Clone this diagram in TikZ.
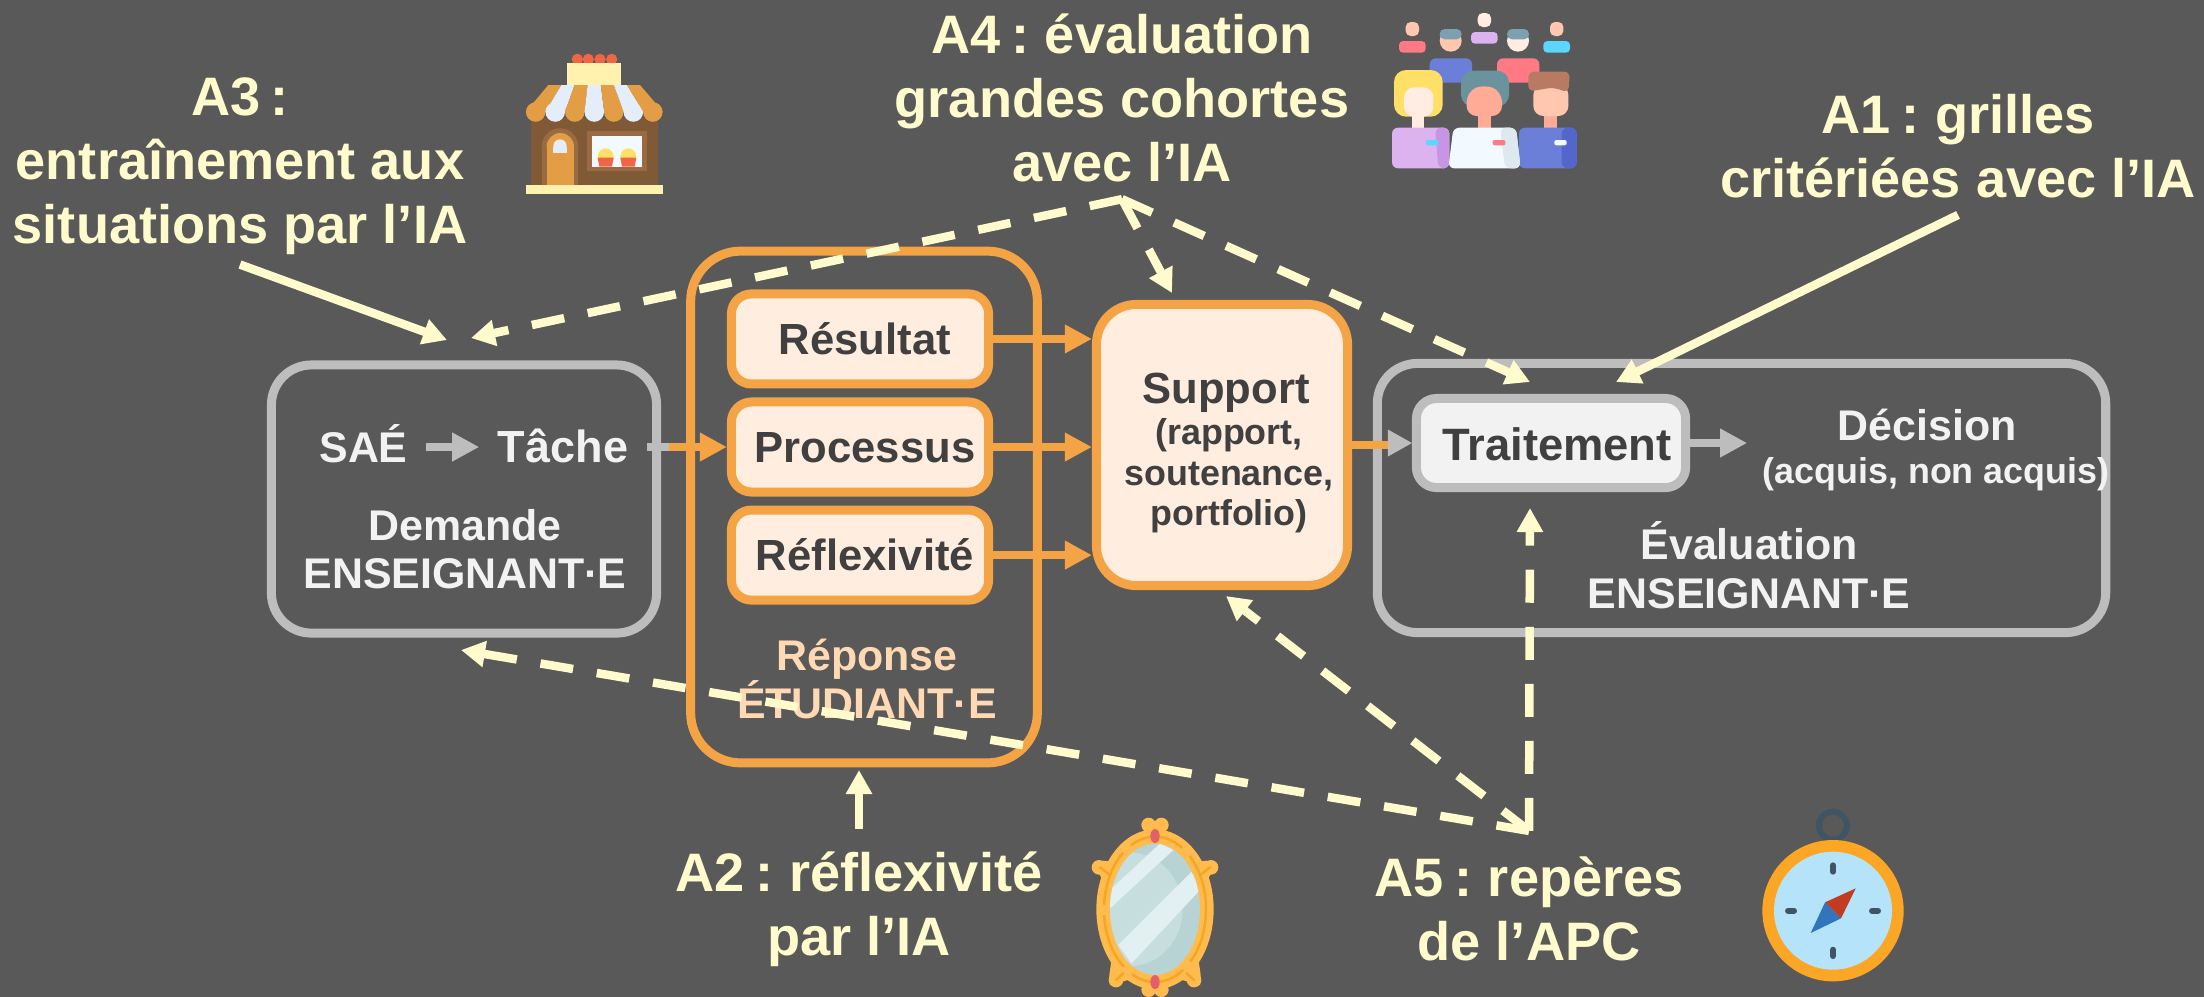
\documentclass[tikz,border=0pt]{standalone}
\usepackage{xcolor}
\usepackage{fontspec}
\setmainfont{Liberation Sans}
\usetikzlibrary{arrows.meta,positioning,calc}
\newcommand{\colonsep}{\hspace{-0.08em}:\hspace{-0.08em}}
\definecolor{slatebg}{HTML}{595959}
\definecolor{cream}{HTML}{FFFBCC}
\definecolor{orangeline}{HTML}{F4A444}
\definecolor{peachfill}{HTML}{FFEEDF}
\definecolor{peachtext}{HTML}{FFD9B3}
\definecolor{greyline}{HTML}{BDBDBD}
\definecolor{greyfill}{HTML}{F2F2F2}
\definecolor{darktext}{HTML}{404040}
\definecolor{shopbrown}{HTML}{805A37}
\definecolor{shopframe}{HTML}{9A6B42}
\definecolor{shoporange}{HTML}{E39D45}
\definecolor{shopwhite}{HTML}{E4EEFB}
\definecolor{shopcream}{HTML}{FFF1AE}
\definecolor{shopred}{HTML}{EF6545}
\definecolor{skinpale}{HTML}{FFC7B0}
\definecolor{skinlight}{HTML}{FFEDE3}
\definecolor{skindark}{HTML}{FFAB95}
\definecolor{teal}{HTML}{7CA0B0}
\definecolor{tealdark}{HTML}{6A939E}
\definecolor{pinkcloth}{HTML}{FF7A85}
\definecolor{bluecloth}{HTML}{6C7FD8}
\definecolor{bluedark}{HTML}{5366CC}
\definecolor{lilac}{HTML}{DCB3EE}
\definecolor{lilacdark}{HTML}{C795E3}
\definecolor{skyblue}{HTML}{5AD6FF}
\definecolor{whitecloth}{HTML}{F3FAFF}
\definecolor{whiteshade}{HTML}{DDE9EE}
\definecolor{hairyellow}{HTML}{FFE066}
\definecolor{hairbrown}{HTML}{B97A63}
\definecolor{mirrorgold}{HTML}{FFBB4D}
\definecolor{mirrorline}{HTML}{F5A623}
\definecolor{mirrorglass}{HTML}{B8D3D3}
\definecolor{mirrorlight}{HTML}{C7DEDE}
\definecolor{mirrorshine}{HTML}{E3F0F1}
\definecolor{mirrorred}{HTML}{E2606A}
\definecolor{compassgold}{HTML}{FBA625}
\definecolor{compassface}{HTML}{B5E4FA}
\definecolor{compassdark}{HTML}{3F5563}
\definecolor{needlered}{HTML}{C23B22}
\definecolor{needleblue}{HTML}{3375BD}

\begin{document}
\begin{tikzpicture}[
    x=0.01cm, y=-0.01cm,
    groupbox/.style={rectangle, line width=0.09cm, rounded corners=0.4cm},
    itembox/.style={rectangle, draw=orangeline, fill=peachfill, line width=0.09cm, rounded corners=0.2cm, minimum width=2.57cm, minimum height=0.9cm, text=darktext, text height=0.31cm, text depth=0cm, font=\fontsize{12.4}{14}\selectfont\bfseries},
    flowtext/.style={text=greyfill, font=\fontsize{12.2}{13.8}\selectfont\bfseries, align=center},
    steptext/.style={flowtext, inner sep=0.18cm, text height=0.31cm, text depth=0cm},
    smalltext/.style={font=\fontsize{10.2}{11.5}\selectfont\bfseries, align=center},
    actionlabel/.style={text=cream, font=\fontsize{15.4}{18.2}\selectfont\bfseries, align=center, inner sep=0cm, outer sep=0.1cm},
    orangearrow/.style={-{Triangle[length=0.27cm,width=0.27cm]}, line width=0.08cm, orangeline},
    greyarrow/.style={-{Triangle[length=0.27cm,width=0.27cm]}, line width=0.08cm, greyline},
    creamarrow/.style={-{Triangle[length=0.24cm,width=0.25cm]}, line width=0.085cm, cream},
    creamdash/.style={creamarrow, dash pattern=on 0.33cm off 0.24cm}
]
    \useasboundingbox (0,0) rectangle (2204,996);
    \fill[slatebg] (-10,-10) rectangle (2214,1007);

    % Boxes
    \node[groupbox, draw=greyline, minimum width=3.85cm, minimum height=2.68cm] (demande) at (464,499) {};
    \node[groupbox, draw=orangeline, rounded corners=0.5cm, minimum width=3.465cm, minimum height=5.115cm] (reponse) at (864,507) {};
    \node[itembox] (processus) at (860,447) {\hspace*{0.1cm}Processus};
    \node[itembox, above=0.09cm of processus] (resultat) {\hspace*{0.1cm}Résultat};
    \node[itembox, below=0.09cm of processus] (reflexivite) {\hspace*{0.1cm}Réflexivité};
    \node[groupbox, draw=orangeline, fill=peachfill, minimum width=2.51cm, minimum height=2.81cm] (support) at (1222,445) {};
    \node[groupbox, draw=greyline, minimum width=7.28cm, minimum height=2.69cm] (evaluation) at (1741.5,498) {};
    \node[itembox, draw=greyline, fill=greyfill, minimum width=2.69cm, minimum height=0.89cm, text height=0.34cm, font=\fontsize{12.9}{14}\selectfont\bfseries] (traitement) at (1551,443) {\hspace*{0.12cm}Traitement};

    % Texts in boxes
    \node[steptext] (sae) at (363.5,447) {SAÉ};
    \node[steptext, font=\fontsize{12.8}{14}\selectfont\bfseries] (tache) at (563,447) {Tâche};
    \node[flowtext] (demandetext) at (465,549) {Demande\\ENSEIGNANT\kern-0.02em·\kern-0.02em E};
    \node[flowtext, text=peachtext] (reponsetext) at (867,679) {Réponse\\ÉTUDIANT·E};
    \node[text=darktext, font=\fontsize{12.4}{14}\selectfont\bfseries] (supporttext) at (1226,393) {Support};
    \node[smalltext, text=darktext] (supportdetail) at (1229,476) {(rapport,\\soutenance,\\portfolio)};
    \node[flowtext] (decision) at (1927,425) {Décision};
    \node[smalltext, text=greyfill] (decisiondetail) at (1936,474) {(acquis, non acquis)};
    \node[flowtext] (evaluationtext) at (1749,565) {Évaluation\\ENSEIGNANT\kern-0.02em·\kern-0.02em E};

    % Action labels
    \node[actionlabel] (athree) at (240,166) {A3 \colonsep{}\\entraînement aux\\situations par l’IA};
    \node[actionlabel, outer sep=0.17cm] (afour) at (1122,98) {A4 \colonsep{} évaluation\\grandes cohortes\\avec l’IA};
    \node[actionlabel, outer sep=0.17cm] (aone) at (1958,146) {A1 \colonsep{} grilles\\critériées avec l’IA};
    \node[actionlabel, outer sep=0.23cm] (atwo) at (859,909) {A2 \colonsep{} réflexivité\\par l’IA};
    \node[actionlabel, outer sep=0.26cm] (afive) at (1529,909) {A5 \colonsep{} repères\\de l’APC};

    % Arrow ends
    \coordinate (athreetip) at (447,340);
    \coordinate (afourleft) at (471,338);
    \coordinate (afoursupport) at (1172,293);
    \coordinate (afourtraite) at (1530,382);
    \coordinate (aonetip) at (1616,382);
    \coordinate (atwotip) at (859,770);
    \coordinate (afivetraite) at (1530,508);
    \coordinate (afivesupport) at (1226,596);
    \coordinate (afivedemande) at (461,650);

    % Flow arrows
    \draw[greyarrow] (sae) -- (tache);
    \draw[orangearrow] (tache.east) -- (processus.west);
    \draw[line width=0.08cm, greyline] (tache.east) -- ([xshift=0.08cm]tache.east -| demande.east);
    \draw[orangearrow] (resultat.east) -- (resultat.east -| support.west);
    \draw[orangearrow] (processus.east) -- (processus.east -| support.west);
    \draw[orangearrow] (reflexivite.east) -- (reflexivite.east -| support.west);
    \draw[line width=0.08cm, orangeline] (support.east) -- ([xshift=-0.24cm]support.east -| traitement.west);
    \fill[greyline] (traitement.west) -- +(-24,-13.5) -- +(-24,13.5) -- cycle;
    \draw[greyarrow] (traitement.east) -- ([xshift=0.57cm]traitement.east);

    % Action arrows
    \draw[creamarrow] (athree.south) -- (athreetip);
    \draw[creamdash] (afour.south) -- (afourleft);
    \draw[creamdash] (afour.south) -- (afoursupport);
    \draw[creamdash] (afour.south) -- (afourtraite);
    \draw[creamarrow] (aone.south) -- (aonetip);
    \draw[creamarrow] (atwo.north) -- (atwotip);
    \draw[creamdash] (afive.north) -- (afivetraite);
    \draw[creamdash] (afive.north) -- (afivesupport);
    \draw[creamdash] (afive.north) -- (afivedemande);

    % Shop
    \begin{scope}[shift={(500,40)}, scale=1/3]
        \foreach \x in {232,265,300,335} \fill[shopred] (\x,58) circle (17);
        \fill[shopcream] (200,68) rectangle (363,135);
        \fill[shopbrown] (92,235) rectangle (473,435);
        \foreach \i/\col in {0/shoporange,1/shopwhite,2/shoporange,3/shopwhite,4/shoporange,5/shopwhite,6/shoporange} {
            \fill[\col] ({145+39.3*\i},135) -- ({145+39.3*(\i+1)},135) -- ({78+58.6*(\i+1)},215) -- ({78+58.6*\i},215) -- cycle;
            \fill[\col] ({107+58.6*\i},216) circle (29.3);
        }
        \fill[shopframe] (125,320) rectangle (235,435);
        \fill[shopframe] (180,320) circle (55);
        \fill[shoporange] (140,320) rectangle (222,435);
        \fill[shoporange] (181,320) circle (41);
        \fill[shopwhite] (160,320) rectangle (200,340);
        \fill[shopwhite] (180,318) circle (20);
        \fill[shopframe] (262,273) rectangle (440,392);
        \fill[whitecloth] (275,287) rectangle (427,380);
        \foreach \x in {317,385} {
            \fill[hairyellow] (\x,350) ellipse (24 and 25);
            \fill[shopred] (\x-24,353) -- (\x+24,353) -- (\x+19,380) -- (\x-19,380) -- cycle;
        }
        \fill[shopcream] (78,435) rectangle (488,462);
    \end{scope}

    % Crowd
    \begin{scope}[shift={(1300,0)}, scale=1/3]
        \foreach \x/\y/\head/\cloth in {337/87/skinpale/pinkcloth,553/60/skinlight/lilac,770/87/skinpale/skyblue} {
            \fill[\head, rounded corners=0.05cm] (\x-20,\y-21) rectangle (\x+20,\y+21);
            \fill[\cloth, rounded corners=0.04cm] (\x-40,\y+36) rectangle (\x+40,\y+71);
        }
        \foreach \x/\head/\cloth in {452/skinpale/bluecloth,654/skinlight/pinkcloth} {
            \fill[\cloth, rounded corners=0.06cm] (\x-63,175) rectangle (\x+64,248);
            \fill[\head] (\x,122) circle (33);
            \fill[teal, rounded corners=0.05cm] (\x-33,118) -- (\x-33,87) -- (\x+33,87) -- (\x+33,118) -- cycle;
        }
        % Left person
        \fill[hairyellow, rounded corners=0.12cm] (282,350) -- (282,210) -- (428,210) -- (428,350) -- cycle;
        \fill[skinlight] (337,340) rectangle (373,390);
        \fill[skinlight, rounded corners=0.1cm] (312,262) rectangle (400,350);
        \fill[lilac, rounded corners=0.06cm] (276,383) rectangle (448,505);
        \fill[lilacdark, rounded corners=0.06cm] (405,383) -- (448,383) -- (448,505) -- (415,505) -- cycle;
        \fill[skyblue, rounded corners=0.02cm] (378,420) rectangle (416,436);
        % Right person
        \fill[skindark] (732,340) rectangle (772,390);
        \fill[skinpale, rounded corners=0.1cm] (700,255) rectangle (805,348);
        \fill[hairbrown, rounded corners=0.06cm] (685,275) -- (685,215) -- (810,215) -- (805,278) -- (760,262) -- cycle;
        \fill[bluecloth, rounded corners=0.06cm] (657,383) rectangle (830,505);
        \fill[bluedark, rounded corners=0.06cm] (785,383) rectangle (830,505);
        \fill[whitecloth, rounded corners=0.02cm] (763,420) rectangle (800,436);
        % Middle person
        \fill[tealdark, rounded corners=0.12cm] (483,320) -- (483,212) -- (627,212) -- (627,320) -- cycle;
        \fill[skindark] (533,340) rectangle (573,390);
        \fill[skindark, rounded corners=0.1cm] (500,348) -- (500,275) -- (553,252) -- (606,275) -- (606,348) -- cycle;
        \fill[whitecloth, rounded corners=0.06cm] (460,383) -- (648,383) -- (662,505) -- (445,505) -- cycle;
        \fill[whiteshade, rounded corners=0.06cm] (600,383) -- (648,383) -- (662,505) -- (615,505) -- cycle;
        \fill[pinkcloth, rounded corners=0.02cm] (578,420) rectangle (616,436);
    \end{scope}

    % Mirror
    \begin{scope}[shift={(1050,780)}, scale=1/3]
        \foreach \x/\y in {296/135,334/135,147/262,483/262,198/600,432/600,296/629,334/629} \fill[mirrorgold] (\x,\y) circle (22);
        \fill[mirrorgold] (130,250) -- (160,242) -- (240,250) -- (180,340) -- cycle;
        \fill[mirrorgold] (500,250) -- (470,242) -- (390,250) -- (450,340) -- cycle;
        \fill[mirrorgold] (180,615) -- (178,585) -- (190,500) -- (270,590) -- cycle;
        \fill[mirrorgold] (450,615) -- (452,585) -- (440,500) -- (360,590) -- cycle;
        \fill[mirrorgold] (315,388) ellipse (176 and 240);
        \draw[mirrorline, line width=0.025cm, line cap=round, dash pattern=on 0.55cm off 0.12cm] (315,388) ellipse (153 and 218);
        \draw[mirrorline, line width=0.025cm, line cap=round] (150,262) -- (178,284) (480,262) -- (452,284) (198,600) -- (220,580) (432,600) -- (410,580);
        \begin{scope}
            \clip (315,388) ellipse (135 and 197);
            \fill[mirrorglass] (150,180) rectangle (480,600);
            \fill[mirrorlight] (240,388) ellipse (158 and 170);
            \fill[mirrorshine] (180,385) -- (180,330) -- (330,190) -- (370,210) -- cycle;
            \fill[mirrorshine] (205,495) -- (425,275) -- (450,330) -- (245,550) -- cycle;
        \end{scope}
        \fill[mirrorred] (315,168) ellipse (14 and 21);
        \fill[mirrorred] (315,606) ellipse (14 and 21);
    \end{scope}

    % Compass
    \begin{scope}[shift={(1720,780)}, scale=1/3]
        \draw[compassdark, line width=0.06cm] (339,137) circle (42);
        \fill[compassgold] (339,392) circle (212);
        \fill[compassface] (339,392) circle (177);
        \foreach \a/\b/\c/\d in {339/256/339/275,339/509/339/528,204/392/222/392,456/392/474/392}
            \draw[compassdark, line width=0.06cm, line cap=round] (\a,\b) -- (\c,\d);
        \fill[needlered] (315,367) -- (407,325) -- (363,415) -- cycle;
        \fill[needleblue] (315,367) -- (272,459) -- (363,415) -- cycle;
    \end{scope}
\end{tikzpicture}
\end{document}
